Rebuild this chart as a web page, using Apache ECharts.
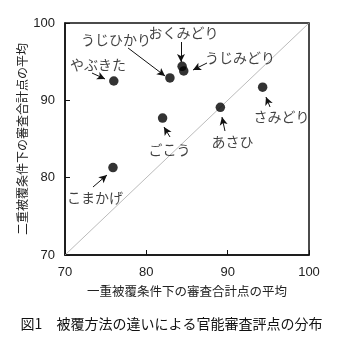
<!DOCTYPE html>
<html><head><meta charset="utf-8">
<script src="https://cdn.jsdelivr.net/npm/echarts@6/dist/echarts.min.js"></script>
<style>html,body{margin:0;padding:0;background:#fff}#c{width:343px;height:345px}</style>
</head><body><div id="c"></div>
<script>
const cultivars = ['やぶきた','うじひかり','おくみどり','うじみどり','さみどり','あさひ','ごこう','こまかげ'];
const singleCover = [76.0, 82.9, 84.4, 84.6, 94.3, 89.1, 82.0, 75.9];
const doubleCover = [92.5, 92.9, 94.4, 93.8, 91.7, 89.1, 87.7, 81.3];
const xTicks = [70, 80, 90, 100];
const yTicks = [70, 80, 90, 100];
// annotation label anchor (data units) and arrow start/end (data units)
const labelX = [74.06, 76.27, 84.57, 91.52, 96.62, 90.60, 82.85, 73.69];
const labelY = [94.57, 97.80, 98.71, 95.47, 87.84, 84.61, 83.58, 77.37];
const arrowFrom = [[73.32,93.53],[77.75,96.77],[84.26,97.54],[87.46,94.83],[95.21,89.14],[89.67,86.03],[82.91,85.26],[73.44,78.79]];
const arrowTo = [[74.92,92.76],[82.30,93.15],[84.26,94.96],[85.74,93.92],[94.71,90.43],[89.30,87.84],[82.17,86.55],[75.16,80.34]];

const jp = '"Noto Sans CJK JP", sans-serif';
const num = '"Liberation Sans", Arial, sans-serif';
const chart = echarts.init(document.getElementById('c'));
chart.setOption({
  animation: false,
  title: {
    text: '図1　被覆方法の違いによる官能審査評点の分布',
    left: 'center', top: 312,
    textStyle: {fontFamily: jp, fontSize: 14, fontWeight: 'normal', color: '#111'}
  },
  grid: {left: 65, right: 34, top: 23, bottom: 90, show: true, borderColor: '#111', borderWidth: 1.5},
  xAxis: {
    type: 'value', min: xTicks[0], max: xTicks[xTicks.length-1], interval: 10,
    name: '一重被覆条件下の審査合計点の平均', nameLocation: 'middle', nameGap: 30,
    nameMoveOverlap: false,
    nameTextStyle: {fontFamily: jp, fontSize: 12.5, color: '#222'},
    axisLine: {lineStyle: {color: '#111', width: 1.5}},
    axisTick: {inside: true, length: 5, lineStyle: {color: '#111'}},
    axisLabel: {fontFamily: num, fontSize: 13, color: '#222', margin: 11},
    splitLine: {show: false}
  },
  yAxis: {
    type: 'value', min: yTicks[0], max: yTicks[yTicks.length-1], interval: 10,
    name: '二重被覆条件下の審査合計点の平均', nameLocation: 'middle', nameGap: 37, nameRotate: 90,
    nameMoveOverlap: false,
    nameTextStyle: {fontFamily: jp, fontSize: 12, color: '#222'},
    axisLine: {lineStyle: {color: '#111', width: 1.5}},
    axisTick: {inside: true, length: 5, lineStyle: {color: '#111'}},
    axisLabel: {fontFamily: num, fontSize: 13, color: '#222', margin: 10},
    splitLine: {show: false}
  },
  series: [
    {
      type: 'line', data: [[70,70],[100,100]], symbol: 'none', silent: true,
      lineStyle: {color: '#aaa', width: 0.8}, z: 1
    },
    {
      type: 'scatter', symbolSize: 9.5, itemStyle: {color: '#000'},
      data: cultivars.map((n,i)=>({name:n, value:[singleCover[i], doubleCover[i]]})), z: 3
    },
    {
      type: 'scatter', symbolSize: 0, silent: true,
      data: cultivars.map((n,i)=>({name:n, value:[labelX[i], labelY[i]]})),
      label: {show: true, position: 'inside', formatter: p=>p.name,
        fontFamily: jp, fontSize: 14, color: '#111'},
      markLine: {
        silent: true, symbol: ['none','arrow'], symbolSize: [6,8],
        lineStyle: {color: '#111', width: 1, type: 'solid'},
        label: {show: false},
        data: arrowFrom.map((f,i)=>[{coord: f}, {coord: arrowTo[i]}])
      }, z: 4
    }
  ]
});
</script></body></html>
